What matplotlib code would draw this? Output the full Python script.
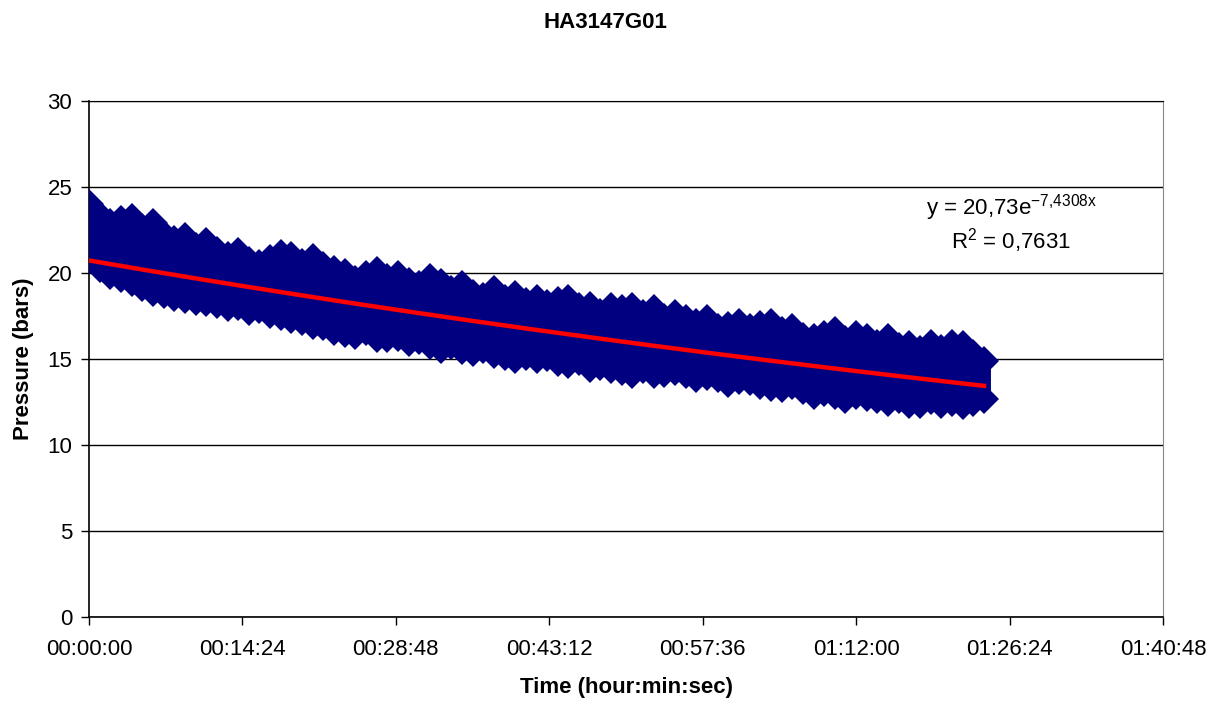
import numpy as np
import matplotlib.pyplot as plt
from matplotlib.ticker import FuncFormatter, MultipleLocator

plt.rcParams['font.family'] = ['Liberation Sans', 'DejaVu Sans']
plt.rcParams['mathtext.fontset'] = 'custom'
plt.rcParams['mathtext.rm'] = 'Liberation Sans'

# elapsed time (minutes) and the pressure spread recorded in each minute (bars)
minutes = list(range(85))
p_high = [24.0, 23.3, 22.9, 23.1, 23.2, 22.6, 22.9, 22.2, 21.9, 22.1,
          21.5, 21.8, 21.3, 21.0, 21.2, 20.7, 20.5, 20.8, 21.1, 21.0,
          20.6, 20.9, 20.4, 20.2, 20.0, 19.6, 19.9, 20.1, 19.7, 19.9,
          19.5, 19.3, 19.7, 19.4, 19.0, 19.3, 18.8, 18.6, 19.0, 18.5,
          18.7, 18.3, 18.5, 18.2, 18.4, 18.5, 18.0, 18.1, 17.7, 18.0,
          17.9, 18.0, 17.6, 17.9, 17.4, 17.6, 17.3, 17.1, 17.3, 16.8,
          16.9, 17.1, 16.8, 17.0, 17.1, 16.6, 16.8, 16.3, 16.2, 16.4,
          16.6, 16.1, 16.4, 16.2, 15.9, 16.2, 15.7, 15.8, 15.5, 15.9,
          15.6, 15.9, 15.8, 15.3, 14.9]
p_low = [20.8, 20.3, 19.9, 19.7, 19.5, 19.2, 18.9, 18.8, 18.6, 18.5,
         18.4, 18.3, 18.2, 18.0, 18.1, 17.8, 17.9, 17.6, 17.5, 17.3,
         17.2, 17.0, 16.9, 16.6, 16.5, 16.4, 16.6, 16.2, 16.2, 16.3,
         16.0, 16.1, 15.8, 15.6, 15.8, 15.5, 15.4, 15.6, 15.3, 15.2,
         15.0, 15.2, 15.0, 15.1, 14.8, 14.7, 14.9, 14.5, 14.6, 14.4,
         14.3, 14.1, 14.4, 14.1, 14.2, 14.3, 14.1, 13.9, 14.0, 13.9,
         13.6, 13.8, 13.7, 13.5, 13.4, 13.3, 13.5, 13.2, 12.9, 13.1,
         12.9, 12.7, 12.9, 12.8, 12.7, 12.5, 12.7, 12.4, 12.4, 12.6,
         12.4, 12.5, 12.3, 12.5, 12.7]

# exponential trend fitted in Excel (x in days)
fit_a = 20.73
fit_b = -7.4308

navy = '#000080'
t = np.array(minutes) / 1440.0

fig = plt.figure(figsize=(12.24, 7.04), dpi=100)
ax = fig.add_axes([89/1224, 1 - 617/704, (1163 - 89)/1224, (617 - 101)/704])

ax.vlines(t, p_low, p_high, color=navy, linewidth=10, zorder=3)
ax.plot(t, p_high, 'D', color=navy, markersize=15.5, markeredgewidth=0, zorder=3)
ax.plot(t, p_low, 'D', color=navy, markersize=15.5, markeredgewidth=0, zorder=3)

tt = np.linspace(0, t[-1], 200)
ax.plot(tt, fit_a * np.exp(fit_b * tt), color='red', linewidth=3.2, zorder=4)

ax.set_xlim(0, 0.07)
ax.set_ylim(0, 30)
ax.xaxis.set_major_locator(MultipleLocator(0.01))
ax.yaxis.set_major_locator(MultipleLocator(5))


def hms(x, pos):
    s = int(round(x * 86400))
    return '%02d:%02d:%02d' % (s // 3600, (s % 3600) // 60, s % 60)


ax.xaxis.set_major_formatter(FuncFormatter(hms))
ax.grid(axis='y', color='black', linewidth=1.0, zorder=1)
ax.set_axisbelow(True)
ax.tick_params(axis='both', direction='out', length=6, width=1, labelsize=16, colors='black')
ax.tick_params(axis='x', pad=10)
ax.tick_params(axis='y', pad=6)
for side in ['left', 'bottom']:
    ax.spines[side].set_color('black')
    ax.spines[side].set_linewidth(1.2)
ax.spines['right'].set_color('#888888')
ax.spines['top'].set_color('black')

ax.set_xlabel('Time (hour:min:sec)', fontsize=16, fontweight='bold', labelpad=12)
ax.set_ylabel('Pressure (bars)', fontsize=16, fontweight='bold', labelpad=10)

fig.text(605/1224, 1 - 22/704, 'HA3147G01', fontsize=16, fontweight='bold',
         ha='center', va='center')

ax.text(0.0601, 23.8, r'y = 20,73e$^{\mathrm{-7{,}4308x}}$', fontsize=16,
        ha='center', va='center')
ax.text(0.0601, 21.9, r'R$^{\mathrm{2}}$ = 0,7631', fontsize=16,
        ha='center', va='center')

fig.savefig('out.png', dpi=100)
